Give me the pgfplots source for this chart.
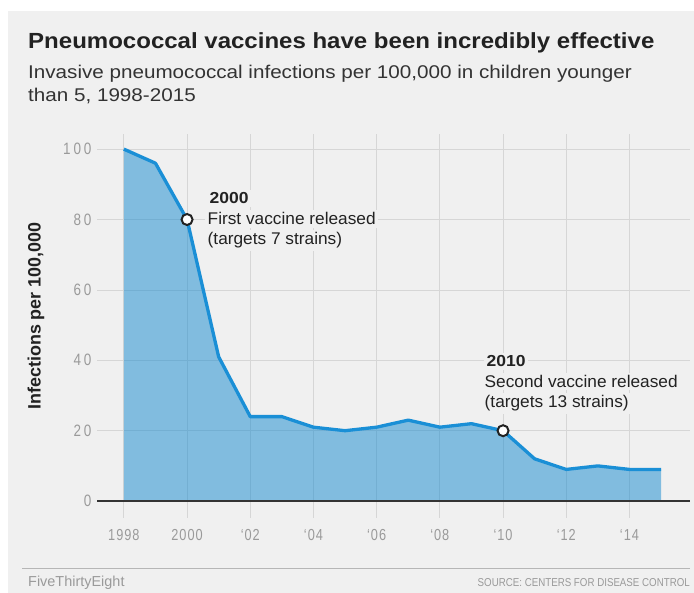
\documentclass[border=0pt]{standalone}
\usepackage{pgfplots}
\pgfplotsset{compat=1.18}
\usepackage{fontspec}
\setmainfont{Liberation Sans}
\newfontfamily\condfont[FakeStretch=0.85]{Liberation Sans}
\newfontfamily\tickfont[FakeStretch=0.8, LetterSpace=6]{Liberation Sans}
\newfontfamily\ytickfont[FakeStretch=0.82, LetterSpace=18]{Liberation Sans}
\newfontfamily\titlefont[FakeStretch=1.096]{Liberation Sans}
\newfontfamily\subfont[FakeStretch=1.12]{Liberation Sans}
\newfontfamily\annfont[FakeStretch=1.02]{Liberation Sans}
\definecolor{bg}{HTML}{F0F0F0}
\definecolor{gridc}{HTML}{D6D6D6}
\definecolor{tickc}{HTML}{9A9A9A}
\definecolor{linec}{HTML}{1A8FD6}
\definecolor{fillc}{HTML}{148AD0}
\definecolor{titlec}{HTML}{222222}
\definecolor{subc}{HTML}{333333}
\pgfplotstableread{
year val
1998 100
1999 96
2000 80
2001 41
2002 24
2003 24
2004 21
2005 20
2006 21
2007 23
2008 21
2009 22
2010 20
2011 12
2012 9
2013 10
2014 9
2015 9
}\datatable
\begin{document}
\begin{tikzpicture}[x=1bp,y=1bp]
\fill[white] (0,0) rectangle (694,593);
\fill[bg] (8,0) rectangle (694,582);
% titles
\node[anchor=base west, inner sep=0, text=titlec, font=\titlefont\fontsize{22}{26}\selectfont\bfseries] at (28,544.5) {Pneumococcal vaccines have been incredibly effective};
\node[anchor=base west, inner sep=0, text=subc, font=\subfont\fontsize{18.5}{22}\selectfont] at (28,514) {Invasive pneumococcal infections per 100,000 in children younger};
\node[anchor=base west, inner sep=0, text=subc, font=\subfont\fontsize{18.5}{22}\selectfont] at (28,491) {than 5, 1998-2015};
% y label
\node[rotate=90, text=titlec, font=\fontsize{18}{20}\selectfont\bfseries] at (36,277) {Infections per 100,000};
\begin{axis}[
  at={(97bp,75bp)}, anchor=south west, scale only axis,
  width=592.8bp, height=384bp,
  xmin=1997.15, xmax=2015.91, ymin=-4.8, ymax=104.3,
  axis line style={draw=none},
  major tick length=0pt,
  xtick={1998,2000,2002,2004,2006,2008,2010,2012,2014},
  xticklabels={1998,2000,‘02,‘04,‘06,‘08,‘10,‘12,‘14},
  ytick={0,20,40,60,80,100},
  yticklabels={0,20,40,60,80,100},
  grid=major,
  grid style={color=gridc, line width=0.8bp},
  xticklabel style={font=\tickfont\fontsize{16}{18}\selectfont, text=tickc, yshift=-8bp},
  yticklabel style={font=\ytickfont\fontsize{16.5}{18}\selectfont, text=tickc, xshift=-2bp},
  clip=false,
]
\addplot[draw=none, fill=fillc, fill opacity=0.5] table[x=year, y=val] {\datatable} \closedcycle;
\addplot[color=subc, line width=1.3bp] coordinates {(1997.15,0) (2015.91,0)};
\addplot[color=linec, line width=3.3bp, line join=round] table[x=year, y=val] {\datatable};
\addplot[only marks, mark=*, mark size=5.5bp, mark options={fill=white, draw=titlec, line width=2bp}] coordinates {(2000,80) (2010,20)};
\end{axis}
% annotations
\begin{scope}[every node/.style={anchor=base west, fill=bg, inner sep=2.5bp, text=titlec, font=\annfont\fontsize{17}{20}\selectfont}]
\node[font=\titlefont\fontsize{16}{18}\selectfont\bfseries] at (207,389) {2000};
\node at (205,368) {First vaccine released};
\node at (205,348) {(targets 7 strains)};
\node[font=\titlefont\fontsize{16}{18}\selectfont\bfseries] at (484,226) {2010};
\node at (482,205.5) {Second vaccine released};
\node at (482,185.5) {(targets 13 strains)};
\end{scope}
% footer
\draw[color=gridc!85!black, line width=0.8bp] (22,25) -- (690,25);
\node[anchor=base west, inner sep=0, text=tickc, font=\fontsize{14.5}{16}\selectfont] at (28,6) {FiveThirtyEight};
\node[anchor=base east, inner sep=0, text=tickc, font=\condfont\fontsize{11.5}{14}\selectfont] at (690,6) {SOURCE: CENTERS FOR DISEASE CONTROL};
\end{tikzpicture}
\end{document}
